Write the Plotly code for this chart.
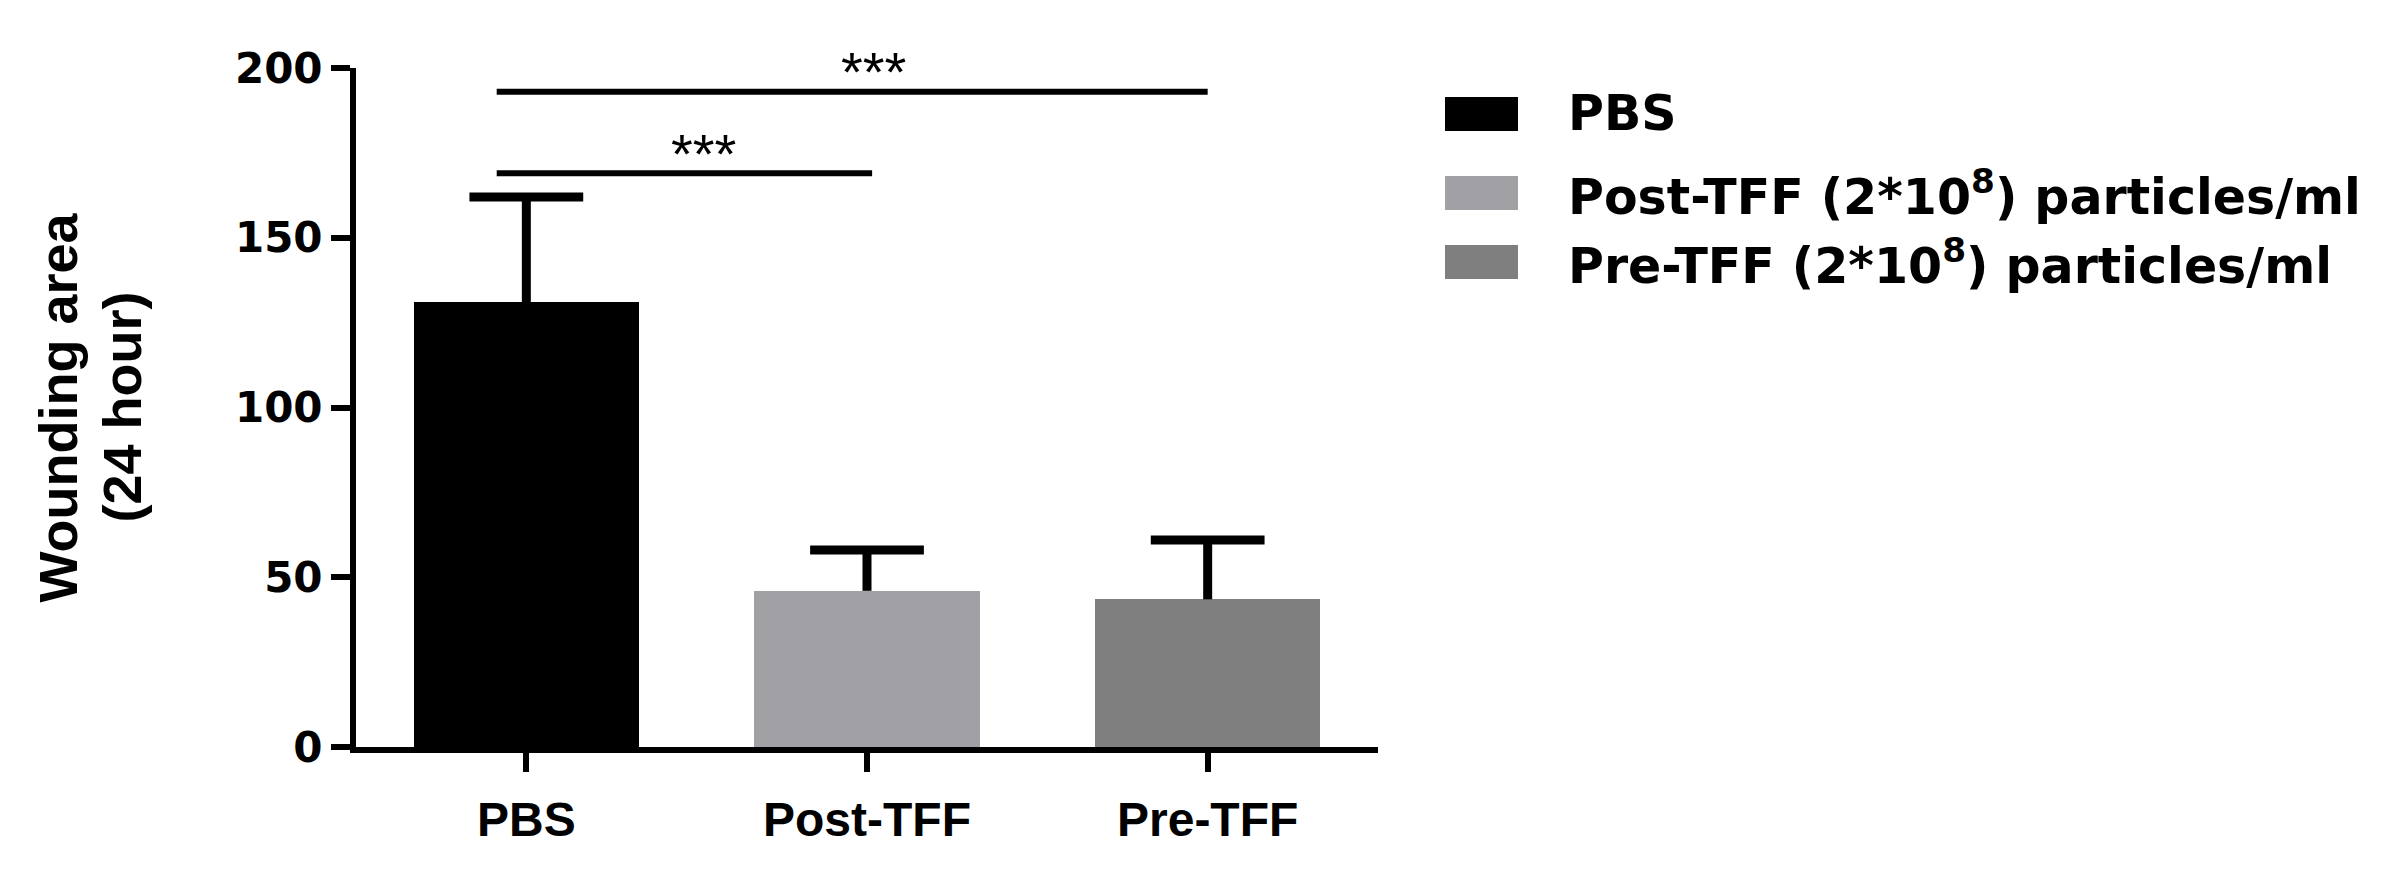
import plotly.graph_objects as go

# ---------------- data ----------------
categories = ["PBS", "Post-TFF", "Pre-TFF"]
means = [131, 46, 43.5]
errors_up = [31, 12, 17.5]
bar_colors = ["#000000", "#a1a0a5", "#7f7f7f"]
legend_labels = ["PBS",
                 "Post-TFF (2*10<sup>8</sup>) particles/ml",
                 "Pre-TFF (2*10<sup>8</sup>) particles/ml"]
y_ticks = [0, 50, 100, 150, 200]
y_title_lines = ["Wounding area", "(24 hour)"]
# significance comparisons: (from index, to index, bar height, label)
sig_from = [0, 0]
sig_to = [1, 2]
sig_level = [169, 193]
sig_label = ["***", "***"]

# ---------------- layout constants ----------------
W, H = 2395, 877
L, R, T, B = 356, 1017, 68, 130
PW, PH = W - L - R, H - T - B
FONT = "Liberation Sans, Arial, sans-serif"
WIDE = "DejaVu Sans, Verdana, sans-serif"

def px_x(px):
    return (px - L) / PW

def px_y(py):
    return (H - B - py) / PH

x_pos = list(range(len(categories)))
bar_width = 0.662
cap_half = 0.167

fig = go.Figure()
fig.add_trace(go.Bar(
    x=x_pos, y=means, width=bar_width,
    marker=dict(color=bar_colors, line=dict(width=0)),
    showlegend=False, hoverinfo="skip",
))

# upper-only error bars (stem + cap) built from the data arrays
ex, ey = [], []
for xi, m, e in zip(x_pos, means, errors_up):
    ex += [xi, xi, None, xi - cap_half, xi + cap_half, None]
    ey += [m, m + e, None, m + e, m + e, None]
fig.add_trace(go.Scatter(x=ex, y=ey, mode="lines",
                         line=dict(color="black", width=9),
                         showlegend=False, hoverinfo="skip"))

# significance bars
sx, sy = [], []
for a, b, lvl in zip(sig_from, sig_to, sig_level):
    sx += [a - 0.087, b + (0.015 if b == 1 else 0.0), None]
    sy += [lvl, lvl, None]
fig.add_trace(go.Scatter(x=sx, y=sy, mode="lines",
                         line=dict(color="black", width=6),
                         showlegend=False, hoverinfo="skip", cliponaxis=False))

annotations = []
for a, b, lvl, lab in zip(sig_from, sig_to, sig_level, sig_label):
    annotations.append(dict(
        x=(a + b) / 2 + 0.02, y=lvl - 4, xref="x", yref="y",
        text=lab, showarrow=False, xanchor="center", yanchor="bottom",
        font=dict(family=FONT, size=56, color="black"),
    ))

# y-axis title (two lines, placed separately)
for line, xc in zip(y_title_lines, [57, 121]):
    annotations.append(dict(
        x=px_x(xc), y=0.5, xref="paper", yref="paper",
        text="<b>%s</b>" % line, showarrow=False,
        textangle=-90, xanchor="center", yanchor="middle",
        font=dict(family=FONT, size=54, color="black"),
    ))

# manual legend
shapes = []
row_centers = [114, 193, 262]
for lab, col, yc in zip(legend_labels, bar_colors, row_centers):
    shapes.append(dict(type="rect", xref="paper", yref="paper",
                       x0=px_x(1445), x1=px_x(1518),
                       y0=px_y(yc + 17), y1=px_y(yc - 17),
                       fillcolor=col, line=dict(width=0)))
    annotations.append(dict(
        x=px_x(1566), y=px_y(yc), xref="paper", yref="paper",
        text="<b>" + lab + "</b>", showarrow=False,
        xanchor="left", yanchor="middle",
        font=dict(family=WIDE, size=49, color="black"),
    ))

fig.update_layout(
    width=W, height=H,
    margin=dict(l=L, r=R, t=T, b=B, pad=0),
    paper_bgcolor="white", plot_bgcolor="white",
    bargap=0,
    annotations=annotations, shapes=shapes,
    xaxis=dict(range=[-0.5, 2.5], tickmode="array", tickvals=x_pos,
               ticktext=["<b>%s</b>" % c for c in categories],
               showline=True, linewidth=6, linecolor="black",
               ticks="outside", ticklen=19, tickwidth=6, tickcolor="black",
               ticklabelstandoff=6,
               showgrid=False, zeroline=False,
               tickfont=dict(family=FONT, size=48, color="black")),
    yaxis=dict(range=[0, 200], tickmode="array", tickvals=y_ticks,
               ticktext=["<b>%d</b>" % v for v in y_ticks],
               showline=True, linewidth=6, linecolor="black",
               ticks="outside", ticklen=19, tickwidth=6, tickcolor="black",
               showgrid=False, zeroline=False,
               tickfont=dict(family=WIDE, size=42, color="black")),
)

fig.write_html("out.html",
               config={"displayModeBar": False},
               post_script="document.body.style.margin='0';"
                           "document.body.style.overflow='hidden';")
